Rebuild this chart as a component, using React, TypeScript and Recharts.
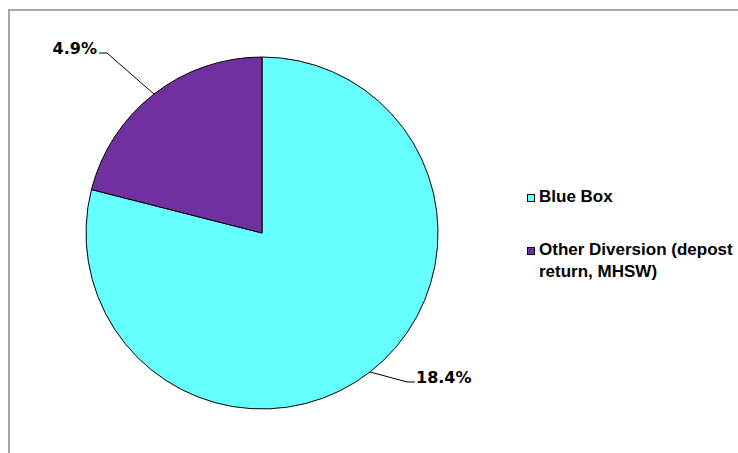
import React from 'react';
import { PieChart, Pie, Cell, Legend } from 'recharts';

const categories = ['Blue Box', 'Other Diversion (depost return, MHSW)'];
const values = [18.4, 4.9];
const colors = ['#66FFFF', '#7030A0'];
const legendLines = [['Blue Box'], ['Other Diversion (depost', 'return, MHSW)']];

const data = categories.map((name, i) => ({ name, value: values[i] }));

const RAD = Math.PI / 180;
const LABEL_FONT = '"DejaVu Sans", sans-serif';
const LEGEND_FONT = '"Liberation Sans", Arial, sans-serif';

const renderLabel = (props: any) => {
  const { cx, cy, midAngle, outerRadius, index, value } = props;
  const ex = cx + outerRadius * Math.cos(-midAngle * RAD);
  const ey = cy + outerRadius * Math.sin(-midAngle * RAD);
  const off = index === 0 ? { dx: 37, dy: 10 } : { dx: -47, dy: -41 };
  const mx = ex + off.dx;
  const my = ey + off.dy;
  const right = mx > cx;
  const tx = mx + (right ? 8 : -8);
  return (
    <g>
      <polyline
        points={`${ex},${ey} ${mx},${my} ${tx},${my}`}
        fill="none"
        stroke="#000"
        strokeWidth={1}
      />
      <text
        x={right ? tx + 1 : tx - 2}
        y={my + 1}
        textAnchor={right ? 'start' : 'end'}
        fontFamily={LABEL_FONT}
        fontWeight="bold"
        fontSize={16}
        fill="#000"
      >
        {`${Number(value).toFixed(1)}%`}
      </text>
    </g>
  );
};

const LegendContent = () => (
  <div style={{ position: 'relative', width: 210, height: 110, fontFamily: LEGEND_FONT, fontWeight: 'bold', fontSize: 17, color: '#000' }}>
    {categories.map((c, i) => (
      <div key={c} style={{ position: 'absolute', left: 0, top: i === 0 ? 0 : 53 }}>
        <div
          style={{
            position: 'absolute',
            left: 0,
            top: 8,
            width: 6,
            height: 6,
            background: colors[i],
            border: '1px solid #000',
          }}
        />
        <div style={{ position: 'absolute', left: 12, top: 0, whiteSpace: 'nowrap', lineHeight: '22px' }}>
          {legendLines[i].map((l) => (
            <div key={l}>{l}</div>
          ))}
        </div>
      </div>
    ))}
  </div>
);

export default function App() {
  return (
    <div style={{ position: 'absolute', left: 0, top: 0, width: 738, height: 453, overflow: 'hidden', background: '#fff' }}>
      <div
        style={{
          position: 'absolute',
          left: 8,
          top: 9,
          width: 900,
          height: 600,
          borderLeft: '2px solid #A6A6A6',
          borderTop: '2px solid #A6A6A6',
        }}
      />
      <div style={{ position: 'absolute', left: 0, top: 0 }}>
        <PieChart width={738} height={453} margin={{ top: 0, right: 0, bottom: 0, left: 0 }}>
          <Pie
            data={data}
            dataKey="value"
            nameKey="name"
            cx={262}
            cy={233}
            outerRadius={176}
            startAngle={90}
            endAngle={-270}
            stroke="#000"
            strokeWidth={1}
            label={renderLabel}
            labelLine={false}
            isAnimationActive={false}
          >
            {data.map((d, i) => (
              <Cell key={d.name} fill={colors[i]} />
            ))}
          </Pie>
          <Legend
            content={<LegendContent />}
            wrapperStyle={{ position: 'absolute', left: 527, top: 186, width: 210 }}
          />
        </PieChart>
      </div>
    </div>
  );
}
